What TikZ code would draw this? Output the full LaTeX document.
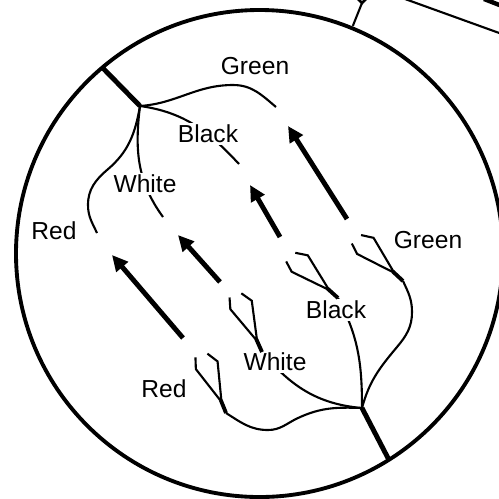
\documentclass[tikz,border=0pt]{standalone}
\usepackage{fontspec}
\setmainfont{Liberation Sans}
\usetikzlibrary{arrows.meta}

\tikzset{
  wire/.style={line width=1.2pt},
  lbl/.style={fill=white, inner sep=1pt, font=\fontsize{14}{16}\selectfont},
  pointer/.style={line width=2.8pt, -{Triangle[length=9pt,width=8.5pt]}},
  terminal/.pic={
    \draw[line width=2.2pt] (0,0) -- (0,14);
    \draw[line width=1.2pt] (-7.5,63) -- (-11.5,52) -- (0,12) -- (11.5,51) -- (5,62);
  }
}

\begin{document}
\begin{tikzpicture}[x=0.02cm, y=0.02cm]
	\useasboundingbox (0,0) rectangle (499,-498);
	\clip (0,0) rectangle (499,-498);
	% lens and the bits of the drawing outside it
	\coordinate (c) at (259.5,-253.5);
	\draw[line width=2.2pt] (c) circle[radius=243.5];
	\path (c) ++(67.7:246) coordinate (rim);
	\coordinate (plug) at (362,-3);
	\draw[line width=1.2pt] (rim) -- (plug);
	\draw[line width=1.5pt] (plug) -- (370,5) -- (362,13) -- (354,5) -- cycle;
	\draw[line width=1.2pt] (405,1) -- (502,-34);
	\draw[line width=2.5pt] (484,1) -- (502,-6);
	% cable ends
	\coordinate (j1) at (140,-106);
	\coordinate (j2) at (362,-408);
	\path (c) ++(130.2:243.5) coordinate (e1);
	\path (c) ++(-57.9:243.5) coordinate (e2);
	\draw[line width=2.8pt] (e1) -- (j1);
	\draw[line width=2.8pt] (e2) -- (j2);
	% loose wires
	\coordinate (gU) at (276,-107);
	\coordinate (bU) at (239,-164);
	\coordinate (wU) at (163,-217);
	\coordinate (rU) at (97,-233);
	\draw[wire] (j1) to[out=4,in=180] (233,-85) to[out=0,in=140] (gU);
	\draw[wire] (j1) to[out=-8,in=133] (bU);
	\draw[wire] (j1) to[out=-97,in=126] (wU);
	\draw[wire] (j1) to[out=-100,in=40] (107,-170) to[out=-139,in=90] (88,-205) to[out=-90,in=115] (rU);
	% wires with terminals
	\coordinate (tR) at (226,-413);
	\coordinate (tW) at (262,-352);
	\coordinate (tB) at (338,-298);
	\coordinate (tG) at (403,-281);
	\draw[wire] (j2) to[out=178,in=25] (298,-418) to[out=205,in=0] (268,-430) to[out=180,in=-32] (tR);
	\draw[wire] (j2) to[out=175,in=-50] (tW);
	\draw[wire] (j2) to[out=90,in=-62] (tB);
	\draw[wire] (j2) to[out=75,in=-130] (397,-347) to[out=50,in=-90] (412,-312) to[out=90,in=-65] (tG);
	% labels
	\node[lbl] (lgU) at (255,-66) {Green};
	\node[lbl] (lbU) at (208,-134) {Black};
	\node[lbl] (lwU) at (145,-184) {White};
	\node[lbl] (lrU) at (54,-231) {Red};
	\node[lbl] (lgL) at (428,-240) {Green};
	\node[lbl] (lbL) at (336,-310) {Black};
	\node[lbl] (lwL) at (275,-362) {White};
	\node[lbl] (lrL) at (164,-389) {Red};
	\pic[rotate=22] at (tR) {terminal};
	\pic[rotate=24] at (tW) {terminal};
	\pic[rotate=48] at (tB) {terminal};
	\pic[rotate=47] at (tG) {terminal};
	% arrows
	\foreach \x/\y/\u/\v [count=\i] in {183/338/112/255, 220/282/178/235, 280/237/250/185, 347/219/288/126} {
		\coordinate (p\i) at (\x,-\y);
		\coordinate (q\i) at (\u,-\v);
		\draw[pointer] (p\i) -- (q\i);
	}
\end{tikzpicture}
\end{document}
